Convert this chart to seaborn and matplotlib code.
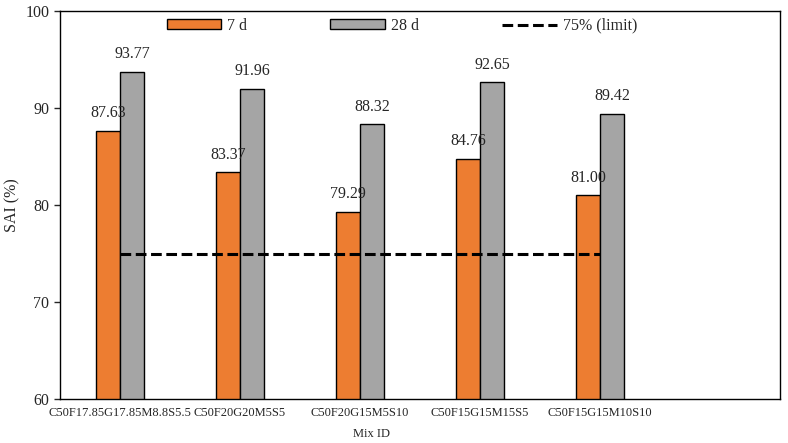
import numpy as np
import pandas as pd
import seaborn as sns
import matplotlib.pyplot as plt
from matplotlib.lines import Line2D

# data
mix_ids = ["C50F17.85G17.85M8.8S5.5", "C50F20G20M5S5", "C50F20G15M5S10",
           "C50F15G15M15S5", "C50F15G15M10S10"]
sai_7d = [87.63, 83.37, 79.29, 84.76, 81.00]
sai_28d = [93.77, 91.96, 88.32, 92.65, 89.42]
limit = 75
ages = ["7 d", "28 d"]
colors = ["#ED7D31", "#A5A5A5"]

sns.set_style("white")
plt.rcParams['font.family'] = ['Liberation Serif', 'DejaVu Serif']

df = pd.DataFrame({
    "Mix ID": mix_ids * 2,
    "SAI": sai_7d + sai_28d,
    "Age": [ages[0]] * len(mix_ids) + [ages[1]] * len(mix_ids),
})

fig = plt.figure(figsize=(7.88, 4.43), dpi=100)
ax = fig.add_axes([0.076, 0.099, 0.914, 0.876])

# one empty slot on the right, like the original
order = mix_ids + [""]
sns.barplot(data=df, x="Mix ID", y="SAI", hue="Age", order=order, hue_order=ages,
            palette=colors, saturation=1, width=0.4, edgecolor="black", linewidth=1,
            errorbar=None, ax=ax, legend=False)

for cont in ax.containers:
    ax.bar_label(cont, fmt="%.2f", padding=7, fontsize=11.5)

ax.hlines(limit, 0, len(mix_ids) - 1, colors="black", linestyles=(0, (3.5, 1.5)),
          linewidth=2.2)

ax.set_ylim(60, 100)
ax.set_yticks([60, 70, 80, 90, 100])
ax.set_xlim(-0.5, len(order) - 0.5)
ax.tick_params(axis="y", labelsize=11.5, length=4, width=1, direction="out", left=True)
ax.tick_params(axis="x", labelsize=9, length=0, pad=6)
for s in ax.spines.values():
    s.set_color("black")
    s.set_linewidth(1)

ax.set_ylabel("SAI (%)", fontsize=11.5)
ax.set_xlabel("Mix ID", fontsize=9)
ax.xaxis.set_label_coords(0.433, -0.075)

handles = [plt.Rectangle((0, 0), 1, 1, facecolor=c, edgecolor="black", linewidth=1) for c in colors]
handles.append(Line2D([0], [0], color="black", linestyle=(0, (3.5, 1.5)), linewidth=2.2))
ax.legend(handles, ages + ["75% (limit)"], ncol=3, loc="upper center",
          bbox_to_anchor=(0.475, 1.02), frameon=False, fontsize=11.5,
          handlelength=3.4, handleheight=0.5, columnspacing=5.2, handletextpad=0.4)

plt.savefig("out.png", dpi=100)
